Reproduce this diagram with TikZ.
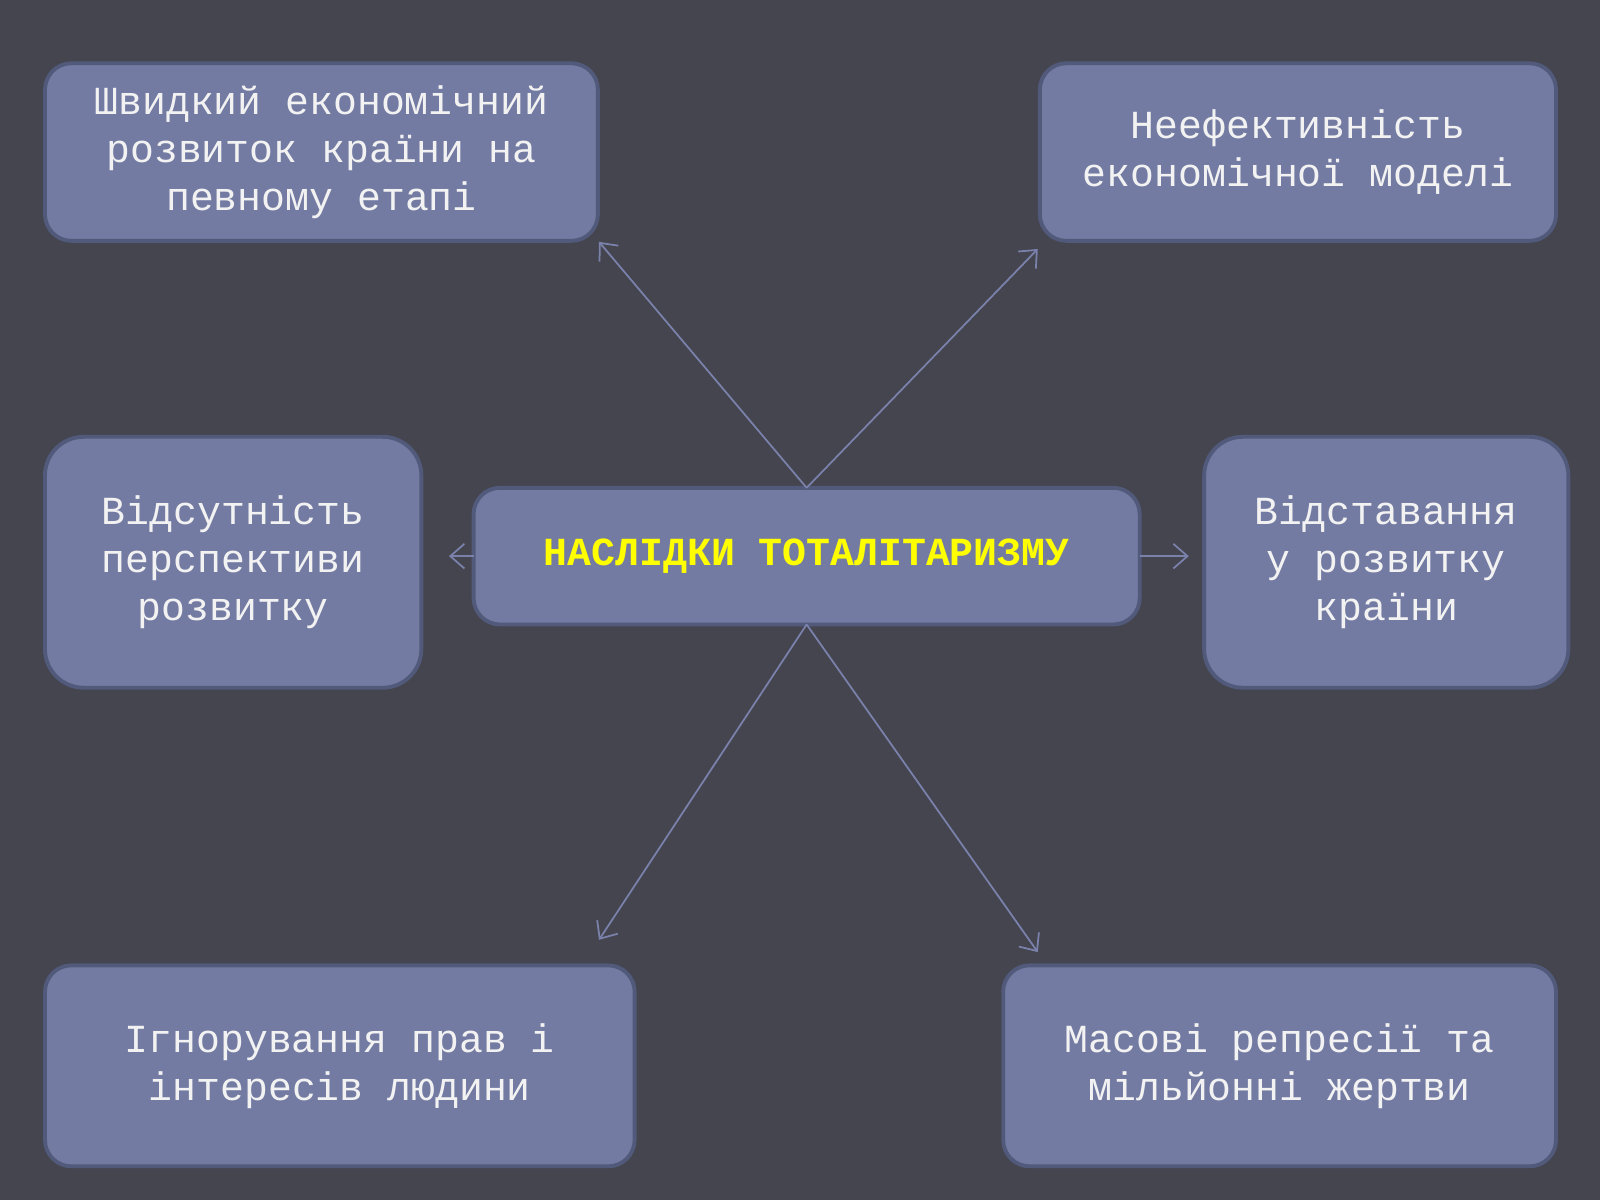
\documentclass[tikz,border=0pt]{standalone}
\usepackage{fontspec}
\newfontfamily\cour{Liberation Mono}
\usetikzlibrary{arrows.meta}
\definecolor{bg}{HTML}{45454F}
\definecolor{boxfill}{HTML}{737BA3}
\definecolor{boxline}{HTML}{525A7C}
\definecolor{arr}{HTML}{7A82AC}
\definecolor{txt}{HTML}{F2F2F2}
\definecolor{yel}{HTML}{FFFF00}
\begin{document}
\begin{tikzpicture}[x=0.010204cm,y=-0.010204cm,
  box/.style={draw=boxline,fill=boxfill,line width=1.1pt,rounded corners=7.5pt,
    inner sep=0pt,outer sep=0pt,align=center,text=txt,
    font=\cour\fontsize{11.33}{13.67}\selectfont},
  bigbox/.style={box,rounded corners=11pt},
  conn/.style={draw=arr,line width=0.5pt,-{Straight Barb[length=4pt,width=7pt]}}]
\fill[bg] (0,0) rectangle (1568,1176);
\useasboundingbox (0,0) rectangle (1568,1176);
\node[box,minimum width=5.53cm,minimum height=1.776cm] (tl) at (315,149)
  {Швидкий економічний\\розвиток країни на\\певному етапі};
\node[box,minimum width=5.163cm,minimum height=1.776cm] (tr) at (1272,149)
  {Неефективність\\економічної моделі};
\node[bigbox,minimum width=3.765cm,minimum height=2.51cm] (ml) at (228.5,551)
  {Відсутність\\перспективи\\розвитку};
\node[box,minimum width=6.663cm,minimum height=1.367cm,text=yel,
  font=\cour\bfseries\fontsize{11.33}{13.67}\selectfont] (c) at (790.5,545)
  {НАСЛІДКИ ТОТАЛІТАРИЗМУ};
\node[bigbox,minimum width=3.643cm,minimum height=2.51cm] (mr) at (1358.5,551)
  {Відставання\\у розвитку\\країни};
\node[box,minimum width=5.898cm,minimum height=2.01cm] (bl) at (333,1044.5)
  {Ігнорування прав і\\інтересів людини};
\node[box,minimum width=5.53cm,minimum height=2.01cm] (br) at (1254,1044.5)
  {Масові репресії та\\мільйонні жертви};
\coordinate (etl) at (587,237);
\coordinate (etr) at (1017,244);
\coordinate (eml) at (440,545);
\coordinate (emr) at (1165,545);
\coordinate (ebl) at (587,921);
\coordinate (ebr) at (1017,933);
\draw[conn] (c.north) -- (etl);
\draw[conn] (c.north) -- (etr);
\draw[conn] (c.west) -- (eml);
\draw[conn] (c.east) -- (emr);
\draw[conn] (c.south) -- (ebl);
\draw[conn] (c.south) -- (ebr);
\end{tikzpicture}
\end{document}
